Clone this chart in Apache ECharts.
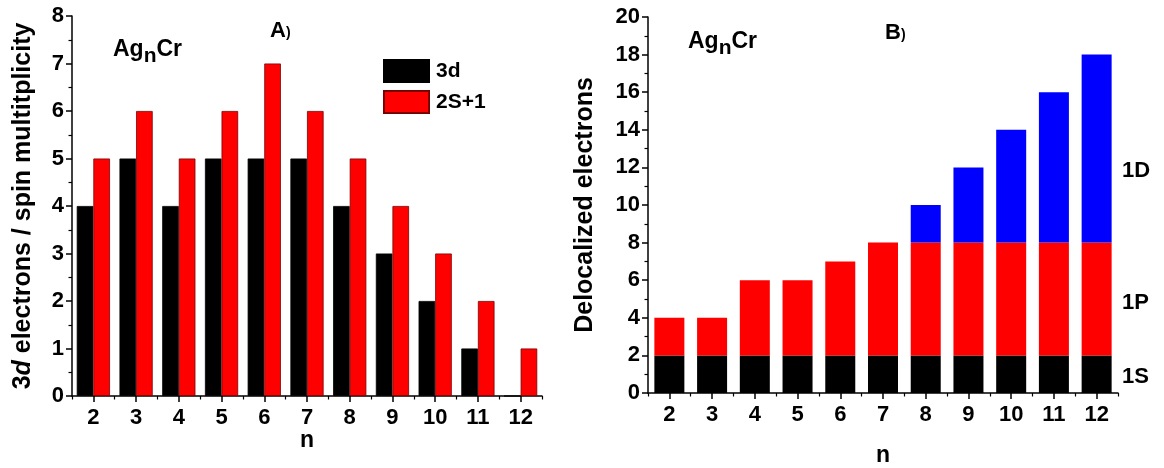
<!DOCTYPE html>
<html>
<head>
<meta charset="utf-8">
<script src="https://cdn.jsdelivr.net/npm/echarts@6/dist/echarts.min.js"></script>
<style>
html,body{margin:0;padding:0;background:#fff;}
#c{width:1164px;height:468px;}
</style>
</head>
<body>
<div id="c"></div>
<script>
// ---- data ----
const nLabels = ['2','3','4','5','6','7','8','9','10','11','12'];
// Panel A
const d3Electrons = [4,5,4,5,5,5,4,3,2,1,0];
const spinMult    = [5,6,5,6,7,6,5,4,3,2,1];
// Panel B (stacked shells)
const shell1S = [2,2,2,2,2,2,2,2,2,2,2];
const shell1P = [2,2,4,4,5,6,6,6,6,6,6];
const shell1D = [0,0,0,0,0,0,2,4,6,8,10];
const yTicksA = {min:0, max:8, interval:1};
const yTicksB = {min:0, max:20, interval:2};

const FONT = '"Liberation Sans", Arial, sans-serif';
const black = '#000000', red = '#ff0000', blue = '#0000ff';

const chart = echarts.init(document.getElementById('c'), null, {renderer:'canvas'});

function yAxis(grid, t, name, nameGap, nameRich){
  return {
    type:'value', gridIndex:grid, min:t.min, max:t.max, interval:t.interval,
    name:name, nameLocation:'middle', nameGap:nameGap, nameRotate:90, nameMoveOverlap:false,
    nameTextStyle:{fontFamily:FONT, fontWeight:'bold', fontSize:25, color:'#000', rich:nameRich},
    axisLine:{show:true, lineStyle:{color:'#000', width:1.5}},
    axisTick:{show:true, length:6, lineStyle:{color:'#000', width:1.5}},
    minorTick:{show:true, splitNumber:2, length:3.5, lineStyle:{color:'#000', width:1.2}},
    splitLine:{show:false},
    axisLabel:{fontFamily:FONT, fontWeight:'bold', fontSize:22, color:'#000', margin:8}
  };
}
function xAxisMain(grid, gap){
  return {
    type:'category', gridIndex:grid, data:nLabels, boundaryGap:true,
    name:'n', nameLocation:'middle', nameGap:gap, nameMoveOverlap:false,
    nameTextStyle:{fontFamily:FONT, fontWeight:'bold', fontSize:23, color:'#000'},
    axisLine:{show:true, lineStyle:{color:'#000', width:1.5}},
    axisTick:{show:true, alignWithLabel:true, length:6, lineStyle:{color:'#000', width:1.5}},
    axisLabel:{fontFamily:FONT, fontWeight:'bold', fontSize:22, color:'#000', margin:11, interval:0},
    splitLine:{show:false}
  };
}
function xAxisMinor(grid){
  return {
    type:'category', gridIndex:grid, data:nLabels, position:'bottom', boundaryGap:true,
    axisLine:{show:false},
    axisTick:{show:true, alignWithLabel:false, length:3.5, interval:0, lineStyle:{color:'#000', width:1.2}},
    axisLabel:{show:false}, splitLine:{show:false}
  };
}

const labelText = (txt, x, y, size) => ({
  type:'text', left:x, top:y,
  style:{text:txt, fontFamily:FONT, fontWeight:'bold', fontSize:size||22, fill:'#000'}
});
const agCr = (x, y) => ({
  type:'text', left:x, top:y,
  style:{
    text:'Ag{s|n}Cr', fontFamily:FONT, fontWeight:'bold', fontSize:23, fill:'#000',
    rich:{s:{fontFamily:FONT, fontWeight:'bold', fontSize:21, fill:'#000', padding:[13,0,0,0]}}
  }
});
const panelTag = (letter, x, y) => ({
  type:'text', left:x, top:y,
  style:{
    text:letter + '{p|)}', fontFamily:FONT, fontWeight:'bold', fontSize:22, fill:'#000',
    rich:{p:{fontFamily:FONT, fontWeight:'bold', fontSize:14, fill:'#000', padding:[5,0,0,0]}}
  }
});

const option = {
  backgroundColor:'#fff',
  animation:false,
  grid:[
    {left:72, top:16, width:470, height:380, outerBoundsMode:'none', containLabel:false},
    {left:648, top:17, width:470, height:376, outerBoundsMode:'none', containLabel:false}
  ],
  legend:{
    show:true, orient:'vertical', left:378, top:54, itemWidth:45, itemHeight:22, itemGap:7,
    icon:'rect', data:['3d','2S+1'],
    textStyle:{fontFamily:FONT, fontWeight:'bold', fontSize:21, color:'#000', padding:[0,0,0,2]}
  },
  xAxis:[xAxisMain(0, 33), xAxisMinor(0), xAxisMain(1, 51), xAxisMinor(1)],
  yAxis:[
    yAxis(0, yTicksA, '3{i|d} electrons / spin multitplicity', 36,
      {i:{fontFamily:FONT, fontWeight:'bold', fontStyle:'italic', fontSize:25, color:'#000'}}),
    yAxis(1, yTicksB, 'Delocalized electrons', 50, {})
  ],
  series:[
    {name:'3d', type:'bar', xAxisIndex:0, yAxisIndex:0, data:d3Electrons, barWidth:16.6, barGap:'0%',
      itemStyle:{color:black, borderColor:'#000', borderWidth:0.8}},
    {name:'2S+1', type:'bar', xAxisIndex:0, yAxisIndex:0, data:spinMult, barWidth:16.6, barGap:'0%',
      itemStyle:{color:red, borderColor:'#7a0000', borderWidth:0.8}},
    {name:'1S', type:'bar', xAxisIndex:2, yAxisIndex:1, stack:'shell', data:shell1S, barWidth:30,
      itemStyle:{color:black}},
    {name:'1P', type:'bar', xAxisIndex:2, yAxisIndex:1, stack:'shell', data:shell1P, barWidth:30,
      itemStyle:{color:red}},
    {name:'1D', type:'bar', xAxisIndex:2, yAxisIndex:1, stack:'shell', data:shell1D, barWidth:30,
      itemStyle:{color:blue}}
  ],
  graphic:[
    agCr(113, 38),
    panelTag('A', 270, 20),
    agCr(688, 30),
    panelTag('B', 885, 22),
    labelText('1D', 1122, 160),
    labelText('1P', 1122, 292),
    labelText('1S', 1122, 366)
  ]
};
chart.setOption(option);
</script>
</body>
</html>
